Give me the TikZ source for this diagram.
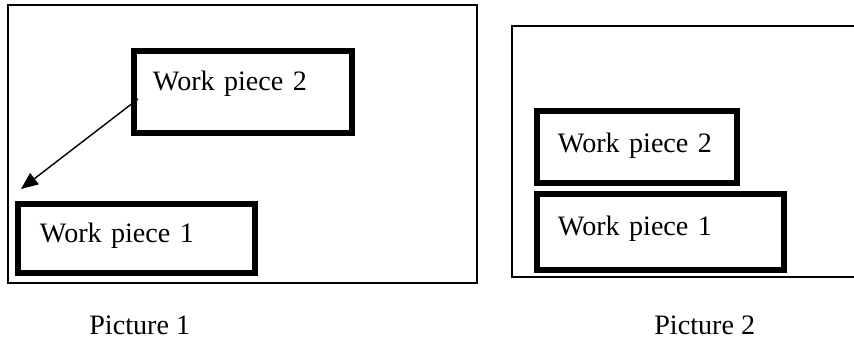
\documentclass[tikz,border=0pt]{standalone}
\usepackage{fontspec}
\setmainfont{Liberation Serif}
\usetikzlibrary{arrows.meta,calc}
\begin{document}
\begin{tikzpicture}[piece/.style={rectangle,draw,line width=3.4pt,anchor=north west,inner ysep=0pt,align=left,font=\fontsize{16}{19}\selectfont},
caption/.style={anchor=base west,inner sep=0pt,font=\fontsize{16}{19}\selectfont}]
\def\pad{0.42}
\useasboundingbox (0,0) rectangle (17.08,6.8);
% frames
\draw[line width=0.85pt] (0.16,1.14) rectangle (9.54,6.70);
\draw[line width=0.85pt] (17.08,6.28) -- (10.24,6.28) -- (10.24,1.26) -- (17.08,1.26);
% picture 1
\path
(2.62,5.84) node [piece,inner xsep=0.38cm,text width=3.60cm,text height=0.80cm,text depth=0.84cm] (wpA2) {Work piece 2}
(0.30,2.78) node [piece,inner xsep=0.44cm,text width=3.86cm,text height=0.78cm,text depth=0.60cm] (wpA1) {Work piece 1}
;
\coordinate (from) at ($(wpA2.west)+(0.14,-0.14)$);
\coordinate (to) at ($(wpA1.north west)+(0.12,0.24)$);
\draw[line width=0.8pt,-{Triangle[length=0.34cm,width=0.28cm]}] (from) -- (to);
% picture 2
\path
(10.68,4.64) node [piece,inner xsep=\pad cm,text width=3.16cm,text height=0.84cm,text depth=0.60cm] (wpB2) {Work piece 2}
(10.68,2.98) node [piece,inner xsep=\pad cm,text width=4.10cm,text height=0.84cm,text depth=0.68cm] (wpB1) {Work piece 1}
;
\path
(1.78,0.12) node [caption] (capA) {Picture 1}
(13.08,0.12) node [caption] (capB) {Picture 2}
;
\end{tikzpicture}
\end{document}
